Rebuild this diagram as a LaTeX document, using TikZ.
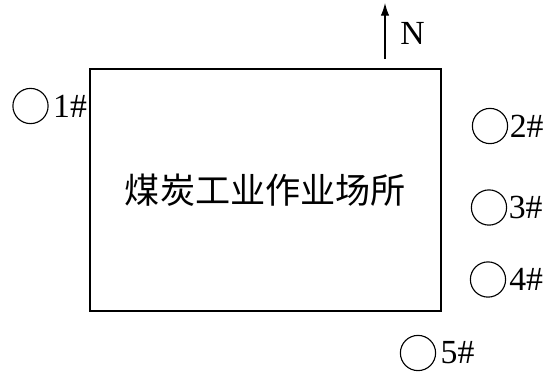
\documentclass[tikz,border=0pt]{standalone}
\usepackage{fontspec}
\setmainfont{Liberation Serif}
\newfontfamily\cjk{Noto Sans CJK SC}
\usepackage{tikz}
\usetikzlibrary{positioning,arrows.meta}

\begin{document}
\begin{tikzpicture}[x=0.025cm,y=-0.025cm,
  well/.style={draw,circle,minimum size=0.88cm,inner sep=0pt,line width=0.8pt},
  tag/.style={font=\fontsize{24}{28}\selectfont,inner sep=0pt}]
\useasboundingbox (0,0) rectangle (547,378);
\node [draw,line width=0.8pt,minimum width=8.775cm,minimum height=6.05cm,
  font=\cjk\fontsize{25}{30}\selectfont] (site) at (265.5,190) {煤炭工业作业场所};
% north arrow
\coordinate (nfoot) at (385,59);
\coordinate (ntip) at (385,3);
\draw [line width=0.8pt,-{Latex[length=9pt,width=6pt]}] (nfoot) -- (ntip);
\node [tag,anchor=west] (north) at (400,33) {N};
% monitoring points
\node [well] (w1) at (30.5,106) {};
\node [well] (w2) at (490,126) {};
\node [well] (w3) at (489,207.5) {};
\node [well] (w4) at (488,279.5) {};
\node [well] (w5) at (418,353) {};
\node [tag,right=3pt of w1] (l1) {1\#};
\node [tag,right=1pt of w2] (l2) {2\#};
\node [tag,right=1pt of w3] (l3) {3\#};
\node [tag,right=2pt of w4] (l4) {4\#};
\node [tag,right=3pt of w5] (l5) {5\#};
\end{tikzpicture}
\end{document}
